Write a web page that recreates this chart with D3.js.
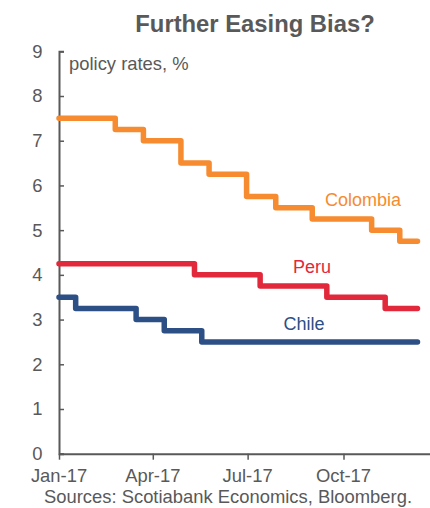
<!DOCTYPE html>
<html><head><meta charset="utf-8">
<script src="https://cdn.jsdelivr.net/npm/d3@7"></script>
<style>
html,body{margin:0;padding:0;background:#fff;}
svg{display:block;font-family:"Liberation Sans",Arial,sans-serif;}
</style></head>
<body>
<script>
const title = "Further Easing Bias?";
const yLabel = "policy rates, %";
const source = "Sources: Scotiabank Economics, Bloomberg.";
const yTicks = [0,1,2,3,4,5,6,7,8,9];
const xTickDates = ["2017-01-01","2017-04-01","2017-07-01","2017-10-01"];
const xTickLabels = ["Jan-17","Apr-17","Jul-17","Oct-17"];
const seriesNames = ["Colombia","Peru","Chile"];
const seriesColors = ["#f68b2f","#e2283b","#2c4f86"];

const colombiaDates = ["2017-01-01","2017-02-24","2017-03-23","2017-04-28","2017-05-25","2017-06-30","2017-07-28","2017-09-01","2017-10-28","2017-11-24","2017-12-11"];
const colombiaRates = [7.5,7.25,7.0,6.5,6.25,5.75,5.5,5.25,5.0,4.75,4.75];
const peruDates = ["2017-01-01","2017-05-11","2017-07-13","2017-09-15","2017-11-10","2017-12-11"];
const peruRates = [4.25,4.0,3.75,3.5,3.25,3.25];
const chileDates = ["2017-01-01","2017-01-17","2017-03-16","2017-04-12","2017-05-18","2017-12-11"];
const chileRates = [3.5,3.25,3.0,2.75,2.5,2.5];

const W = 430, H = 508;
const parse = d3.utcParse("%Y-%m-%d");
const svg = d3.select("body").append("svg").attr("width",W).attr("height",H);
const x = d3.scaleUtc().domain([parse("2017-01-01"), parse("2017-12-23")]).range([59, 430]);
const y = d3.scaleLinear().domain([0,9]).range([453.7, 51.3]);
const gray = "#595959";
const fs = 18.4;

svg.append("text").attr("x",255).attr("y",32).attr("text-anchor","middle")
  .attr("font-size",23.8).attr("font-weight","bold").attr("fill",gray).text(title);

// y axis
const ya = svg.append("g").attr("transform","translate(59,0)")
  .call(d3.axisRight(y).tickValues(yTicks).tickSize(5).tickFormat(""));
ya.select(".domain").attr("stroke",gray).attr("stroke-width",2);
ya.selectAll(".tick line").attr("stroke",gray).attr("stroke-width",1.5);
svg.append("g").selectAll("text").data(yTicks).join("text")
  .attr("x",42.5).attr("y",d=>y(d)).attr("dy","0.35em").attr("text-anchor","end")
  .attr("font-size",fs).attr("fill",gray).text(d=>d);

// x axis
const xa = svg.append("g").attr("transform","translate(0,453.7)")
  .call(d3.axisBottom(x).tickValues(xTickDates.map(parse)).tickSize(6).tickSizeOuter(0).tickFormat(""));
xa.select(".domain").attr("stroke",gray).attr("stroke-width",2);
xa.selectAll(".tick line").attr("stroke",gray).attr("stroke-width",1.5);
svg.append("g").selectAll("text").data(xTickDates).join("text")
  .attr("x",d=>x(parse(d))).attr("y",482).attr("text-anchor","middle")
  .attr("font-size",fs).attr("fill",gray).text((d,i)=>xTickLabels[i]);

svg.append("text").attr("x",69).attr("y",70).attr("font-size",fs).attr("fill",gray).text(yLabel);
svg.append("text").attr("x",228).attr("y",503).attr("text-anchor","middle")
  .attr("font-size",fs).attr("fill",gray).text(source);

const series = [
  {dates:colombiaDates, rates:colombiaRates},
  {dates:peruDates, rates:peruRates},
  {dates:chileDates, rates:chileRates}
];
const line = d3.line().curve(d3.curveStepAfter).x(d=>x(d[0])).y(d=>y(d[1]));
series.forEach((s,i)=>{
  const pts = s.dates.map((d,j)=>[parse(d), s.rates[j]]);
  svg.append("path").attr("d",line(pts)).attr("fill","none")
    .attr("stroke",seriesColors[i]).attr("stroke-width",5.5)
    .attr("stroke-linejoin","round").attr("stroke-linecap","round");
});

const labelPos = [[363,206],[312,273],[304,330]];
seriesNames.forEach((n,i)=>{
  svg.append("text").attr("x",labelPos[i][0]).attr("y",labelPos[i][1]).attr("text-anchor","middle")
    .attr("font-size",18).attr("fill",seriesColors[i]).text(n);
});
</script>
</body></html>
